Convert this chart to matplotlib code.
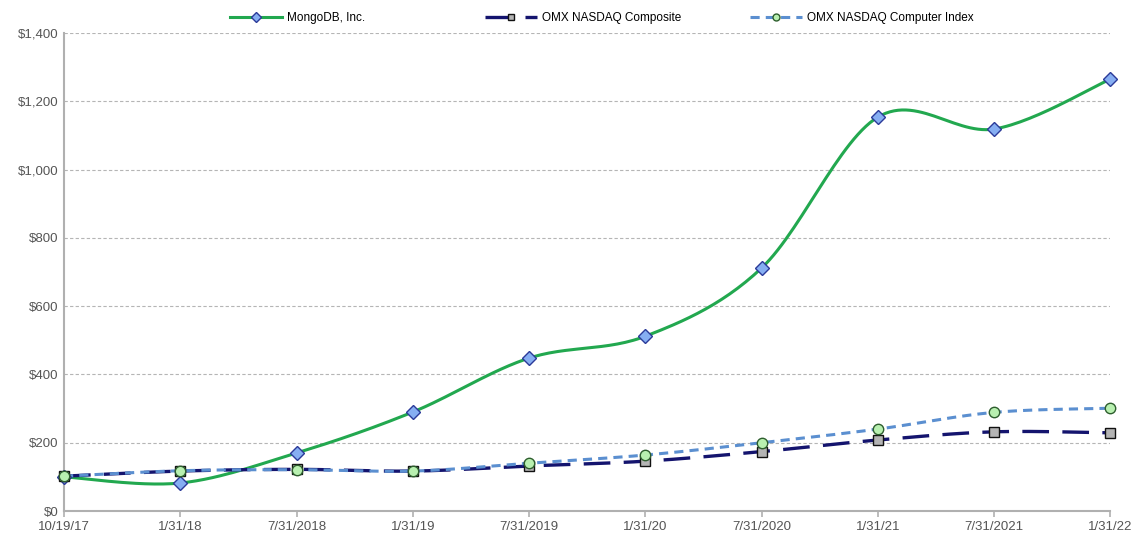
import numpy as np
import matplotlib
matplotlib.use('Agg')
import matplotlib.pyplot as plt
from matplotlib.ticker import FuncFormatter

# Data
dates = ['10/19/17', '1/31/18', '7/31/2018', '1/31/19', '7/31/2019',
         '1/31/20', '7/31/2020', '1/31/21', '7/31/2021', '1/31/22']
mongodb = [100, 82, 170, 290, 448, 512, 712, 1154, 1119, 1265]
nasdaq_composite = [102, 117, 122, 117, 132, 146, 174, 208, 232, 229]
nasdaq_computer = [102, 118, 121, 117, 140, 164, 200, 240, 289, 301]


def smooth(x, y, steps=30):
    """Excel-like smoothed line through the points (Bezier with 1/6 tangents)"""
    x = np.asarray(x, float)
    y = np.asarray(y, float)
    px = np.concatenate([[x[0]], x, [x[-1]]])
    py = np.concatenate([[y[0]], y, [y[-1]]])
    xs, ys = [], []
    t = np.linspace(0, 1, steps)
    for i in range(len(x) - 1):
        p0 = np.array([px[i + 1], py[i + 1]])
        p3 = np.array([px[i + 2], py[i + 2]])
        p1 = p0 + (np.array([px[i + 2], py[i + 2]]) - np.array([px[i], py[i]])) / 6
        p2 = p3 - (np.array([px[i + 3], py[i + 3]]) - np.array([px[i + 1], py[i + 1]])) / 6
        b = ((1 - t) ** 3)[:, None] * p0 + (3 * (1 - t) ** 2 * t)[:, None] * p1 \
            + (3 * (1 - t) * t ** 2)[:, None] * p2 + (t ** 3)[:, None] * p3
        xs.append(b[:, 0])
        ys.append(b[:, 1])
    return np.concatenate(xs), np.concatenate(ys)


plt.rcParams['font.family'] = ['Liberation Sans', 'DejaVu Sans']

fig = plt.figure(figsize=(11.35, 5.37), dpi=100)
ax = fig.add_axes([0.0564, 0.0484, 0.922, 0.89])

x = np.arange(len(dates))

series = [
    ('MongoDB, Inc.', mongodb, dict(color='#22a84f', lw=2.2, ls='-'),
     dict(marker='D', ms=7, mfc='#86aef2', mec='#2b3a99', mew=1)),
    ('OMX NASDAQ Composite', nasdaq_composite, dict(color='#14146e', lw=2.4, ls=(0, (8, 4))),
     dict(marker='s', ms=7.5, mfc='#b4b4b4', mec='#111111', mew=1)),
    ('OMX NASDAQ Computer Index', nasdaq_computer, dict(color='#5b8fd0', lw=2.2, ls=(0, (3, 2))),
     dict(marker='o', ms=7.5, mfc='#b8f0b0', mec='#2e5e2e', mew=1)),
]

legend_x = [230, 485, 750]
for i, (name, vals, line_kw, mk_kw) in enumerate(series):
    sx, sy = smooth(x, vals)
    ax.plot(sx, sy, zorder=3 + i, **line_kw)
    ax.plot(x, vals, ls='none', zorder=6 + i, clip_on=False, **mk_kw)
    h, = ax.plot([], [], label=name, **line_kw,
                 **{k: v for k, v in mk_kw.items() if k != 'ms'}, ms=5)
    fig.legend(handles=[h], loc='center left',
               bbox_to_anchor=(legend_x[i] / 1135, 1 - 18 / 537),
               frameon=False, fontsize=8.5, handlelength=4.4, handletextpad=0.4,
               borderpad=0, borderaxespad=0)

ax.set_xlim(0, len(dates) - 1)
ax.set_ylim(0, 1400)
ax.set_yticks(np.arange(0, 1401, 200))
ax.yaxis.set_major_formatter(FuncFormatter(lambda v, p: f'${v:,.0f}'))
ax.set_xticks(x)
ax.set_xticklabels(dates)

ax.grid(axis='y', color='#b5b5b5', ls=(0, (3, 2)), lw=0.8)
ax.set_axisbelow(True)
for s in ['top', 'right']:
    ax.spines[s].set_visible(False)
for s in ['left', 'bottom']:
    ax.spines[s].set_color('#b0b0b0')
    ax.spines[s].set_linewidth(1.5)
ax.tick_params(axis='x', colors='#b0b0b0', length=4, width=1.2,
               labelcolor='#555555', labelsize=9.5, pad=3)
ax.tick_params(axis='y', length=0, labelcolor='#555555', labelsize=9.5, pad=4)

fig.savefig('out.png', dpi=100)
